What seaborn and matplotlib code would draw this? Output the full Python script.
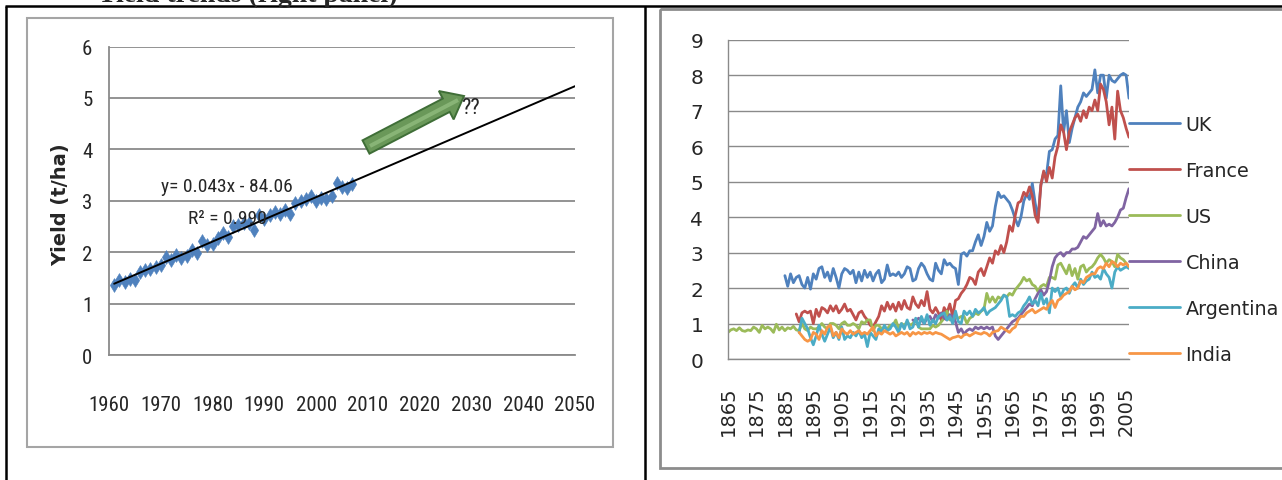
import numpy as np
import pandas as pd
import matplotlib
matplotlib.use("Agg")
import matplotlib.pyplot as plt
import seaborn as sns
from matplotlib import font_manager
from matplotlib.font_manager import FontProperties
from matplotlib.patches import Rectangle, FancyArrow
from matplotlib.lines import Line2D

# ---------------- left panel: yield observations 1961-2007 ----------------
trend_years = list(range(1961, 2008))
trend_yield = [1.36, 1.46, 1.42, 1.48, 1.45, 1.62, 1.66, 1.68, 1.72, 1.76,
               1.90, 1.84, 1.94, 1.88, 1.93, 2.04, 1.99, 2.22, 2.14, 2.16,
               2.27, 2.38, 2.29, 2.50, 2.52, 2.56, 2.56, 2.43, 2.72, 2.64,
               2.73, 2.78, 2.75, 2.82, 2.74, 2.95, 3.00, 3.04, 3.09, 3.00,
               3.06, 3.04, 3.09, 3.35, 3.27, 3.25, 3.33]
left_xticks = list(range(1960, 2051, 10))
left_yticks = list(range(0, 7))
equation_label = "y= 0.043x - 84.06"
r2_label = "R\u00b2 = 0.990"

# ---------------- right panel: long-run yields by country ----------------
country_names = ["UK", "France", "US", "China", "Argentina", "India"]

uk_start = 1885
uk_yield = [2.35, 2.05, 2.40, 2.15, 2.30, 2.35, 2.10, 2.00, 2.30, 1.97,
            2.40, 2.25, 2.55, 2.60, 2.30, 2.45, 2.20, 2.55, 2.30, 2.00,
            2.40, 2.55, 2.50, 2.40, 2.50, 2.15, 2.45, 2.20, 2.50, 2.30,
            2.45, 2.20, 2.40, 2.50, 2.15, 2.25, 2.65, 2.35, 2.40, 2.35,
            2.45, 2.30, 2.40, 2.60, 2.55, 2.20, 2.25, 2.55, 2.70, 2.60,
            2.40, 2.25, 2.20, 2.70, 2.50, 2.40, 2.80, 2.65, 2.70, 2.60,
            2.55, 2.10, 2.95, 3.00, 2.90, 3.05, 3.05, 3.30, 3.50, 3.20,
            3.45, 3.85, 3.60, 3.75, 4.30, 4.70, 4.55, 4.60, 4.50, 4.40,
            4.20, 3.95, 3.75, 4.00, 4.45, 4.65, 4.50, 4.95, 4.40, 3.95,
            4.90, 5.25, 5.20, 5.85, 5.90, 6.20, 6.30, 7.70, 6.40, 7.00,
            6.10, 6.50, 6.80, 7.10, 7.25, 7.50, 7.40, 7.50, 7.60, 8.15,
            7.50, 8.00, 8.00, 7.35, 8.00, 7.85, 7.80, 7.90, 8.00, 8.05,
            8.00, 7.35]

france_start = 1889
france_yield = [1.27, 1.05, 1.30, 1.35, 1.30, 1.35, 1.00, 1.40, 1.20, 1.45,
                1.40, 1.30, 1.50, 1.35, 1.50, 1.30, 1.40, 1.55, 1.35, 1.40,
                1.25, 1.10, 1.30, 1.35, 1.20, 1.10, 0.95, 0.90, 1.05, 1.20,
                1.50, 1.35, 1.60, 1.40, 1.55, 1.35, 1.60, 1.40, 1.65, 1.45,
                1.40, 1.75, 1.55, 1.45, 1.65, 1.50, 1.90, 1.40, 1.30, 1.45,
                1.30, 1.10, 1.45, 1.30, 1.55, 1.20, 1.65, 1.70, 1.85, 1.95,
                2.10, 2.30, 2.25, 2.10, 2.45, 2.55, 2.35, 2.60, 2.85, 2.70,
                3.05, 2.95, 3.20, 3.00, 3.30, 3.75, 3.60, 4.05, 4.40, 4.45,
                4.70, 4.60, 4.85, 4.60, 4.05, 3.85, 4.90, 5.30, 5.00, 5.40,
                5.10, 5.70, 6.00, 6.60, 6.40, 5.90, 6.40, 6.60, 6.80, 6.90,
                6.70, 7.00, 6.80, 7.10, 7.00, 7.30, 7.00, 7.75, 7.60, 7.25,
                6.60, 7.10, 6.20, 7.55, 7.00, 6.80, 6.50, 6.25]

us_start = 1865
us_yield = [0.75, 0.82, 0.85, 0.80, 0.88, 0.80, 0.78, 0.82, 0.80, 0.90,
            0.85, 0.75, 0.95, 0.85, 0.90, 0.85, 0.75, 0.98, 0.82, 0.90,
            0.80, 0.88, 0.85, 0.92, 0.82, 0.80, 1.00, 0.85, 0.80, 0.90,
            0.85, 0.85, 0.90, 1.00, 0.90, 0.85, 1.00, 1.00, 0.95, 0.85,
            1.00, 1.05, 0.95, 0.95, 1.00, 0.95, 0.85, 1.05, 1.00, 1.10,
            1.10, 0.80, 0.95, 0.95, 0.85, 0.90, 0.85, 0.95, 0.95, 1.10,
            0.85, 1.00, 0.95, 1.05, 0.95, 1.00, 1.10, 0.90, 0.85, 0.85,
            0.85, 0.85, 0.95, 0.90, 0.95, 1.05, 1.15, 1.35, 1.10, 1.20,
            1.15, 1.15, 1.20, 1.20, 1.00, 1.15, 1.20, 1.30, 1.25, 1.35,
            1.40, 1.85, 1.60, 1.75, 1.60, 1.75, 1.70, 1.80, 1.75, 1.85,
            1.80, 1.95, 2.05, 2.15, 2.30, 2.20, 2.25, 2.10, 2.05, 1.90,
            2.05, 2.10, 2.05, 2.30, 2.30, 2.25, 2.65, 2.70, 2.55, 2.40,
            2.65, 2.35, 2.55, 2.25, 2.60, 2.65, 2.45, 2.55, 2.60, 2.70,
            2.85, 2.95, 2.85, 2.70, 2.80, 2.75, 2.60, 2.95, 2.85, 2.80,
            2.70, 2.60]

china_start = 1930
china_yield = [1.10, 1.05, 1.15, 1.10, 1.00, 1.15, 1.20, 1.05, 1.25, 1.15,
               1.30, 1.15, 1.10, 1.25, 1.20, 1.05, 0.75, 0.85, 0.70, 0.80,
               0.85, 0.80, 0.90, 0.85, 0.90, 0.85, 0.90, 0.85, 0.90, 0.65,
               0.55, 0.65, 0.75, 0.85, 0.95, 1.05, 1.10, 1.15, 1.25, 1.35,
               1.45, 1.55, 1.50, 1.70, 1.85, 1.95, 1.80, 1.90, 2.20, 2.60,
               2.85, 2.95, 3.00, 2.90, 3.00, 3.00, 3.10, 3.10, 3.15, 3.30,
               3.45, 3.40, 3.50, 3.60, 3.70, 4.10, 3.75, 3.90, 3.75, 3.80,
               3.75, 3.85, 4.00, 4.20, 4.25, 4.55, 4.80]

argentina_start = 1890
argentina_yield = [0.75, 1.15, 1.00, 0.85, 0.60, 0.40, 0.65, 0.95, 0.70, 0.50,
                   0.70, 0.90, 0.60, 0.75, 0.55, 0.90, 0.55, 0.65, 0.60, 0.75,
                   0.65, 0.80, 0.60, 0.70, 0.35, 0.75, 0.65, 0.55, 0.85, 0.75,
                   0.95, 0.80, 0.85, 1.00, 0.90, 0.75, 1.00, 0.85, 1.10, 0.85,
                   0.90, 1.15, 0.90, 1.20, 1.00, 1.25, 0.95, 1.10, 1.00, 1.20,
                   1.25, 1.30, 1.10, 1.20, 1.00, 1.35, 1.05, 1.00, 1.35, 1.25,
                   1.35, 1.20, 1.40, 1.30, 1.35, 1.45, 1.25, 1.35, 1.40, 1.45,
                   1.55, 1.65, 1.80, 1.75, 1.20, 1.25, 1.20, 1.30, 1.35, 1.50,
                   1.60, 1.75, 1.55, 1.65, 1.50, 1.85, 1.55, 1.70, 1.30, 2.00,
                   1.90, 2.00, 1.75, 1.95, 2.00, 1.85, 2.05, 2.15, 2.00, 2.25,
                   2.10, 2.20, 2.25, 2.45, 2.30, 2.35, 2.25, 2.55, 2.40, 2.30,
                   2.00, 2.45, 2.60, 2.50, 2.55, 2.60, 2.55]

india_start = 1890
india_yield = [0.75, 0.65, 0.55, 0.50, 0.55, 0.75, 0.70, 0.55, 0.80, 0.70,
               0.90, 0.95, 0.65, 0.75, 0.60, 0.85, 0.75, 0.70, 0.80, 0.70,
               0.75, 0.80, 0.70, 0.75, 0.70, 0.80, 0.90, 0.65, 0.75, 0.70,
               0.80, 0.75, 0.70, 0.75, 0.65, 0.70, 0.75, 0.70, 0.75, 0.65,
               0.75, 0.70, 0.75, 0.70, 0.75, 0.72, 0.75, 0.70, 0.75, 0.72,
               0.70, 0.65, 0.60, 0.55, 0.60, 0.62, 0.65, 0.60, 0.68, 0.70,
               0.65, 0.70, 0.75, 0.72, 0.70, 0.75, 0.72, 0.65, 0.75, 0.78,
               0.80, 0.90, 0.85, 0.80, 0.75, 0.85, 0.90, 1.10, 1.20, 1.20,
               1.30, 1.35, 1.40, 1.30, 1.35, 1.40, 1.45, 1.40, 1.55, 1.65,
               1.45, 1.65, 1.70, 1.80, 1.85, 1.90, 2.05, 1.95, 2.00, 2.20,
               2.15, 2.30, 2.35, 2.40, 2.40, 2.55, 2.60, 2.55, 2.70, 2.60,
               2.75, 2.70, 2.60, 2.70, 2.65, 2.70, 2.60]

right_yticks = list(range(0, 10))
right_label_years = list(range(1865, 2006, 10))
right_minor_years = list(range(1870, 2006, 10))

# ---------------- styling ----------------
sns.set_style("white")
plt.rcParams["font.family"] = ["DejaVu Sans"]


def is_upright(f):
    tag = (f.name + " " + f.fname).lower()
    return (f.style == "normal" and f.weight in (400, "normal", "regular")
            and not any(k in tag for k in ("bold", "italic", "oblique", "mono", "serif")))


def narrow_font():
    """Pick an upright narrow sans face for the left chart if one is installed."""
    entries = font_manager.fontManager.ttflist
    wanted = ["Liberation Sans Narrow", "Roboto Condensed", "Open Sans Condensed",
              "Noto Sans Condensed"]
    for name in wanted:
        for f in entries:
            if f.name == name and is_upright(f):
                return FontProperties(fname=f.fname)
    for f in entries:
        tag = (f.name + " " + f.fname).lower()
        if ("narrow" in tag or "condensed" in tag) and is_upright(f):
            return FontProperties(fname=f.fname)
    return None


narrow_fp = narrow_font()
if narrow_fp is None:
    narrow_fp = FontProperties(family="Liberation Sans")
    left_tick_size, note_size = 13.5, 12.5
else:
    left_tick_size, note_size = 15.0, 14.0

country_colors = ["#4F81BD", "#C0504D", "#9BBB59", "#8064A2", "#4BACC6", "#F79646"]
grid_c = "#8A8A8A"

W, H = 1282, 481
fig = plt.figure(figsize=(W / 100, H / 100), dpi=100)
fig.patch.set_facecolor("white")


def px_box(left, top, right, bottom):
    return [left / W, 1 - bottom / H, (right - left) / W, (bottom - top) / H]


def sized(fp, size):
    p = fp.copy()
    p.set_size(size)
    return p


# ---------------- left panel ----------------
ax1 = fig.add_axes(px_box(109, 47.5, 575, 356))
df_left = pd.DataFrame({"year": trend_years, "yield": trend_yield})
sns.scatterplot(data=df_left, x="year", y="yield", marker="d", s=50,
                color="#4F81BD", edgecolor="#4F81BD", linewidth=0.4,
                ax=ax1, zorder=3)
slope, icpt = np.polyfit(trend_years, trend_yield, 1)
fit_x = np.array([trend_years[0], left_xticks[-1]])
ax1.plot(fit_x, slope * fit_x + icpt, color="black", lw=1.4, zorder=4)

ax1.set_xlim(left_xticks[0], left_xticks[-1])
ax1.set_ylim(left_yticks[0], left_yticks[-1])
ax1.set_xticks(left_xticks)
ax1.set_yticks(left_yticks)
ax1.set_xlabel("")
ax1.set_ylabel("")
ax1.yaxis.grid(True, color=grid_c, lw=1.3)
ax1.set_axisbelow(True)
for s in ["top", "right"]:
    ax1.spines[s].set_visible(False)
for s in ["left", "bottom"]:
    ax1.spines[s].set_color(grid_c)
    ax1.spines[s].set_linewidth(1.3)
ax1.tick_params(axis="x", length=6.5, width=1.2, color=grid_c, pad=22)
ax1.tick_params(axis="y", length=5, width=1.2, color=grid_c, pad=7)
for lab in ax1.get_xticklabels() + ax1.get_yticklabels():
    lab.set_fontproperties(sized(narrow_fp, left_tick_size))
ax1.patch.set_alpha(0)

fig.text(61 / W, 1 - 205 / H, "Yield (t/ha)", rotation=90, ha="center", va="center",
         fontsize=14, fontweight="bold", family="DejaVu Sans")

# ---------------- right panel ----------------
ax2 = fig.add_axes(px_box(728, 40.7, 1129, 360))
series = [(uk_start, uk_yield), (france_start, france_yield), (us_start, us_yield),
          (china_start, china_yield), (argentina_start, argentina_yield),
          (india_start, india_yield)]
frames = []
for name, (start, vals) in zip(country_names, series):
    frames.append(pd.DataFrame({"year": np.arange(start, start + len(vals)),
                                "yield": vals, "country": name}))
df_right = pd.concat(frames, ignore_index=True)
sns.lineplot(data=df_right, x="year", y="yield", hue="country",
             hue_order=country_names, palette=country_colors, lw=2,
             estimator=None, legend=False, ax=ax2)

ax2.set_xlim(1865, 2006)
ax2.set_ylim(right_yticks[0], right_yticks[-1])
ax2.set_yticks(right_yticks)
ax2.set_xticks(right_label_years)
ax2.set_xticks(right_minor_years, minor=True)
ax2.set_xticklabels([str(y) for y in right_label_years], rotation=90)
ax2.set_xlabel("")
ax2.set_ylabel("")
ax2.yaxis.grid(True, color=grid_c, lw=1.0)
ax2.set_axisbelow(True)
for s in ["top", "right"]:
    ax2.spines[s].set_visible(False)
for s in ["left", "bottom"]:
    ax2.spines[s].set_color(grid_c)
    ax2.spines[s].set_linewidth(1.0)
ax2.tick_params(axis="x", which="both", length=5.8, width=1.0, color=grid_c,
                pad=13.5, labelsize=14)
ax2.tick_params(axis="y", length=5.8, width=1.0, color=grid_c, pad=12, labelsize=14.5)
ax2.patch.set_alpha(0)

handles = [Line2D([], [], color=c, lw=2) for c in country_colors]
ax2.legend(handles, country_names, loc="upper left", bbox_to_anchor=(1.0, 0.764),
           frameon=False, fontsize=13.8, handlelength=2.65, handletextpad=0.3,
           labelspacing=1.41, borderpad=0, borderaxespad=0)

# ---------------- page furniture: table rules, chart frames, notes ----------------
ov = fig.add_axes([0, 0, 1, 1], zorder=10)
ov.set_xlim(0, W)
ov.set_ylim(H, 0)
ov.axis("off")
ov.patch.set_alpha(0)

ov.plot([5, W], [6.5, 6.5], color="black", lw=1.8, solid_capstyle="butt")
ov.plot([6, 6], [6.5, H], color="black", lw=1.8, solid_capstyle="butt")
ov.plot([645, 645], [6.5, H], color="black", lw=1.8, solid_capstyle="butt")
ov.add_patch(Rectangle((27, 19), 586, 429, fill=False, ec="#A5A5A5", lw=1.5))
ov.add_patch(Rectangle((660, 9.5), 700, 459.5, fill=False, ec="#8C8C8C", lw=2.0))

ov.text(97, 1.5, "Yield trends (right panel)", fontsize=20, fontweight="bold",
        family="Liberation Serif", ha="left", va="baseline")

ov.add_patch(FancyArrow(366, 148, 98, -51, width=15, head_width=32, head_length=20,
                        length_includes_head=True, fc="#6A9859", ec="#3F6E37", lw=1.4))
ov.add_patch(FancyArrow(370, 147, 88, -46, width=4, head_width=0, head_length=0,
                        length_includes_head=True, fc="#88B476", ec="none"))
ov.text(461, 108, "??", fontproperties=sized(narrow_fp, 16), ha="left", va="center")
ov.text(161, 187, equation_label, fontproperties=sized(narrow_fp, note_size),
        ha="left", va="center")
ov.text(188, 219, r2_label, fontproperties=sized(narrow_fp, note_size),
        ha="left", va="center")

fig.savefig("out.png", dpi=100)
